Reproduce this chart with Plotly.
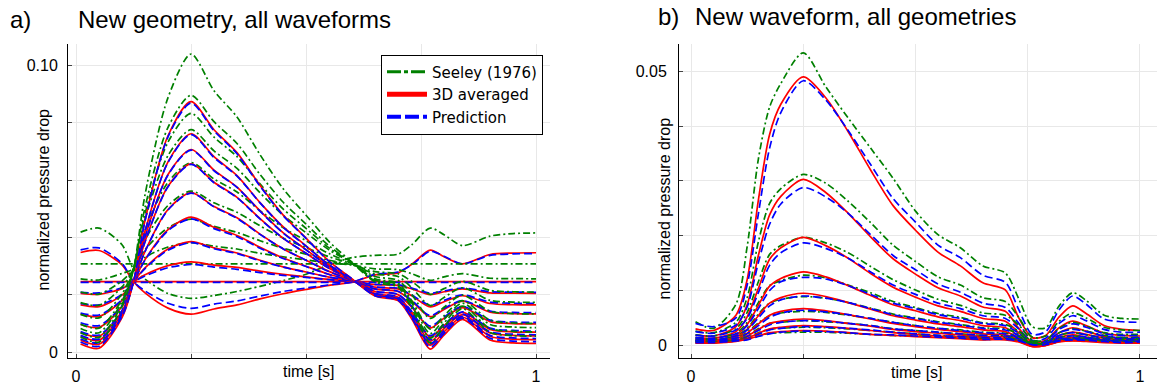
import plotly.graph_objects as go

# ---------------- panel a) new geometry, all waveforms ----------------
T_A = [0.01, 0.05, 0.1, 0.125, 0.15, 0.2, 0.25, 0.3, 0.35, 0.4, 0.45, 0.5,
       0.55, 0.6, 0.65, 0.7, 0.73, 0.77, 0.8, 0.84, 0.9, 0.95, 1.0]

SEELEY_A = [
    [0.0419, 0.0433, 0.0375, 0.0290, 0.0255, 0.0205, 0.0188, 0.0198, 0.0212, 0.0230, 0.0250, 0.0272, 0.0305, 0.0330, 0.0338, 0.0342, 0.0375, 0.0433, 0.0410, 0.0372, 0.0405, 0.0414, 0.0416],
    [0.0308, 0.0308, 0.0308, 0.0308, 0.0308, 0.0308, 0.0308, 0.0308, 0.0308, 0.0308, 0.0308, 0.0308, 0.0308, 0.0308, 0.0308, 0.0308, 0.0308, 0.0308, 0.0308, 0.0308, 0.0308, 0.0308, 0.0308],
    [0.0256, 0.0252, 0.0275, 0.0290, 0.0331, 0.0367, 0.0382, 0.0370, 0.0360, 0.0345, 0.0333, 0.0322, 0.0312, 0.0304, 0.0291, 0.0288, 0.0274, 0.0251, 0.0263, 0.0274, 0.0258, 0.0257, 0.0256],
    [0.0210, 0.0203, 0.0249, 0.0290, 0.0358, 0.0434, 0.0464, 0.0439, 0.0418, 0.0389, 0.0363, 0.0342, 0.0321, 0.0305, 0.0281, 0.0274, 0.0247, 0.0202, 0.0222, 0.0247, 0.0216, 0.0211, 0.0210],
    [0.0173, 0.0164, 0.0228, 0.0290, 0.0391, 0.0512, 0.0562, 0.0521, 0.0488, 0.0441, 0.0398, 0.0365, 0.0333, 0.0308, 0.0273, 0.0264, 0.0225, 0.0163, 0.0191, 0.0225, 0.0181, 0.0175, 0.0174],
    [0.0132, 0.0120, 0.0204, 0.0290, 0.0425, 0.0593, 0.0661, 0.0604, 0.0559, 0.0494, 0.0435, 0.0389, 0.0344, 0.0309, 0.0264, 0.0251, 0.0201, 0.0118, 0.0157, 0.0199, 0.0143, 0.0135, 0.0134],
    [0.0098, 0.0084, 0.0184, 0.0290, 0.0464, 0.0686, 0.0776, 0.0702, 0.0641, 0.0556, 0.0478, 0.0417, 0.0357, 0.0311, 0.0256, 0.0241, 0.0180, 0.0081, 0.0127, 0.0180, 0.0112, 0.0102, 0.0101],
    [0.0083, 0.0068, 0.0176, 0.0290, 0.0483, 0.0733, 0.0833, 0.0750, 0.0682, 0.0587, 0.0500, 0.0432, 0.0364, 0.0311, 0.0252, 0.0236, 0.0172, 0.0065, 0.0114, 0.0171, 0.0097, 0.0088, 0.0086],
    [0.0068, 0.0052, 0.0167, 0.0290, 0.0505, 0.0784, 0.0896, 0.0804, 0.0728, 0.0620, 0.0524, 0.0447, 0.0371, 0.0312, 0.0249, 0.0232, 0.0163, 0.0049, 0.0102, 0.0161, 0.0083, 0.0073, 0.0071],
    [0.0053, 0.0036, 0.0159, 0.0290, 0.0549, 0.0888, 0.1040, 0.0912, 0.0820, 0.0689, 0.0571, 0.0478, 0.0386, 0.0314, 0.0245, 0.0227, 0.0153, 0.0033, 0.0089, 0.0152, 0.0069, 0.0058, 0.0056],
]

AVERAGED_A = [
    [0.0348, 0.0355, 0.0305, 0.0246, 0.0207, 0.0154, 0.0133, 0.0151, 0.0165, 0.0186, 0.0204, 0.0219, 0.0233, 0.0244, 0.0270, 0.0277, 0.0307, 0.0356, 0.0333, 0.0308, 0.0341, 0.0346, 0.0347],
    [0.0246, 0.0246, 0.0246, 0.0246, 0.0246, 0.0246, 0.0246, 0.0246, 0.0246, 0.0246, 0.0246, 0.0246, 0.0246, 0.0246, 0.0246, 0.0246, 0.0246, 0.0246, 0.0246, 0.0246, 0.0246, 0.0246, 0.0246],
    [0.0205, 0.0202, 0.0222, 0.0246, 0.0270, 0.0302, 0.0315, 0.0304, 0.0296, 0.0283, 0.0272, 0.0263, 0.0254, 0.0247, 0.0236, 0.0233, 0.0221, 0.0201, 0.0211, 0.0221, 0.0207, 0.0206, 0.0205],
    [0.0165, 0.0159, 0.0199, 0.0246, 0.0294, 0.0360, 0.0386, 0.0364, 0.0346, 0.0321, 0.0298, 0.0280, 0.0262, 0.0248, 0.0227, 0.0221, 0.0197, 0.0158, 0.0176, 0.0197, 0.0170, 0.0166, 0.0165],
    [0.0133, 0.0125, 0.0181, 0.0246, 0.0323, 0.0428, 0.0471, 0.0436, 0.0407, 0.0366, 0.0329, 0.0300, 0.0272, 0.0250, 0.0220, 0.0212, 0.0178, 0.0124, 0.0149, 0.0178, 0.0140, 0.0135, 0.0134],
    [0.0097, 0.0087, 0.0160, 0.0246, 0.0352, 0.0498, 0.0557, 0.0508, 0.0469, 0.0412, 0.0361, 0.0321, 0.0282, 0.0251, 0.0212, 0.0201, 0.0157, 0.0085, 0.0119, 0.0156, 0.0107, 0.0100, 0.0099],
    [0.0068, 0.0056, 0.0143, 0.0246, 0.0386, 0.0579, 0.0657, 0.0593, 0.0540, 0.0466, 0.0398, 0.0345, 0.0293, 0.0253, 0.0205, 0.0192, 0.0139, 0.0053, 0.0093, 0.0139, 0.0080, 0.0071, 0.0070],
    [0.0055, 0.0042, 0.0136, 0.0246, 0.0403, 0.0620, 0.0707, 0.0635, 0.0576, 0.0493, 0.0417, 0.0358, 0.0299, 0.0253, 0.0202, 0.0188, 0.0132, 0.0039, 0.0082, 0.0131, 0.0067, 0.0059, 0.0057],
    [0.0042, 0.0028, 0.0128, 0.0246, 0.0422, 0.0664, 0.0762, 0.0682, 0.0616, 0.0522, 0.0438, 0.0371, 0.0305, 0.0254, 0.0199, 0.0184, 0.0124, 0.0025, 0.0071, 0.0123, 0.0055, 0.0046, 0.0044],
    [0.0029, 0.0014, 0.0121, 0.0246, 0.0460, 0.0755, 0.0874, 0.0776, 0.0696, 0.0582, 0.0479, 0.0398, 0.0318, 0.0256, 0.0196, 0.0180, 0.0116, 0.0011, 0.0060, 0.0115, 0.0043, 0.0033, 0.0031],
]

PREDICTION_A = [
    [0.0357, 0.0364, 0.0310, 0.0246, 0.0214, 0.0171, 0.0153, 0.0168, 0.0179, 0.0196, 0.0212, 0.0224, 0.0235, 0.0245, 0.0272, 0.0280, 0.0305, 0.0352, 0.0335, 0.0308, 0.0338, 0.0343, 0.0344],
    [0.0244, 0.0244, 0.0244, 0.0244, 0.0244, 0.0244, 0.0244, 0.0244, 0.0244, 0.0244, 0.0244, 0.0244, 0.0244, 0.0244, 0.0244, 0.0244, 0.0244, 0.0244, 0.0244, 0.0244, 0.0244, 0.0244, 0.0244],
    [0.0209, 0.0207, 0.0225, 0.0246, 0.0266, 0.0295, 0.0306, 0.0297, 0.0289, 0.0278, 0.0268, 0.0261, 0.0253, 0.0247, 0.0237, 0.0235, 0.0224, 0.0206, 0.0214, 0.0224, 0.0211, 0.0210, 0.0209],
    [0.0170, 0.0165, 0.0202, 0.0246, 0.0292, 0.0356, 0.0382, 0.0361, 0.0344, 0.0319, 0.0297, 0.0279, 0.0262, 0.0248, 0.0228, 0.0223, 0.0200, 0.0164, 0.0181, 0.0200, 0.0175, 0.0171, 0.0171],
    [0.0137, 0.0130, 0.0183, 0.0246, 0.0321, 0.0424, 0.0465, 0.0431, 0.0403, 0.0363, 0.0327, 0.0299, 0.0271, 0.0249, 0.0221, 0.0213, 0.0181, 0.0128, 0.0153, 0.0180, 0.0144, 0.0139, 0.0138],
    [0.0103, 0.0093, 0.0163, 0.0246, 0.0351, 0.0496, 0.0555, 0.0507, 0.0467, 0.0411, 0.0361, 0.0321, 0.0281, 0.0251, 0.0213, 0.0202, 0.0160, 0.0091, 0.0123, 0.0160, 0.0112, 0.0105, 0.0104],
    [0.0072, 0.0060, 0.0146, 0.0246, 0.0385, 0.0577, 0.0655, 0.0591, 0.0539, 0.0465, 0.0398, 0.0345, 0.0293, 0.0253, 0.0206, 0.0193, 0.0142, 0.0058, 0.0097, 0.0141, 0.0084, 0.0076, 0.0074],
    [0.0059, 0.0046, 0.0138, 0.0246, 0.0402, 0.0618, 0.0705, 0.0633, 0.0575, 0.0492, 0.0416, 0.0357, 0.0299, 0.0253, 0.0203, 0.0189, 0.0134, 0.0044, 0.0086, 0.0133, 0.0071, 0.0063, 0.0061],
    [0.0046, 0.0033, 0.0131, 0.0246, 0.0421, 0.0662, 0.0759, 0.0679, 0.0614, 0.0521, 0.0436, 0.0370, 0.0305, 0.0254, 0.0200, 0.0185, 0.0126, 0.0030, 0.0075, 0.0125, 0.0059, 0.0050, 0.0048],
    [0.0036, 0.0021, 0.0125, 0.0246, 0.0458, 0.0751, 0.0869, 0.0772, 0.0692, 0.0579, 0.0477, 0.0397, 0.0317, 0.0256, 0.0197, 0.0182, 0.0120, 0.0018, 0.0066, 0.0119, 0.0049, 0.0039, 0.0037],
]

# ---------------- panel b) new waveform, all geometries ----------------
T_B = [0.01, 0.05, 0.1, 0.125, 0.15, 0.175, 0.2, 0.25, 0.3, 0.35, 0.4, 0.45, 0.5,
       0.55, 0.6, 0.65, 0.7, 0.73, 0.76, 0.79, 0.82, 0.85, 0.88, 0.92, 0.96, 1.0]

SEELEY_B = [
    [0.0043, 0.0031, 0.0075, 0.0180, 0.0340, 0.0435, 0.0478, 0.0534, 0.0472, 0.0415, 0.0360, 0.0305, 0.0245, 0.0202, 0.0178, 0.0145, 0.0132, 0.0085, 0.0034, 0.0032, 0.0072, 0.0096, 0.0082, 0.0055, 0.0049, 0.0048],
    [0.0026, 0.0023, 0.0042, 0.0087, 0.0189, 0.0259, 0.0286, 0.0312, 0.0296, 0.0263, 0.0224, 0.0183, 0.0153, 0.0125, 0.0110, 0.0087, 0.0080, 0.0051, 0.0015, 0.0017, 0.0044, 0.0059, 0.0050, 0.0033, 0.0028, 0.0027],
    [0.0019, 0.0017, 0.0030, 0.0060, 0.0116, 0.0166, 0.0182, 0.0197, 0.0187, 0.0169, 0.0144, 0.0120, 0.0101, 0.0084, 0.0073, 0.0059, 0.0055, 0.0037, 0.0010, 0.0009, 0.0031, 0.0042, 0.0035, 0.0023, 0.0020, 0.0020],
    [0.0014, 0.0012, 0.0022, 0.0042, 0.0078, 0.0109, 0.0118, 0.0128, 0.0123, 0.0110, 0.0096, 0.0080, 0.0069, 0.0058, 0.0051, 0.0041, 0.0038, 0.0026, 0.0008, 0.0005, 0.0023, 0.0030, 0.0026, 0.0018, 0.0014, 0.0015],
    [0.0011, 0.0010, 0.0017, 0.0031, 0.0057, 0.0077, 0.0084, 0.0089, 0.0086, 0.0078, 0.0068, 0.0057, 0.0050, 0.0043, 0.0038, 0.0032, 0.0030, 0.0021, 0.0006, 0.0003, 0.0018, 0.0023, 0.0019, 0.0014, 0.0013, 0.0012],
    [0.0009, 0.0008, 0.0013, 0.0024, 0.0041, 0.0054, 0.0059, 0.0062, 0.0060, 0.0055, 0.0049, 0.0042, 0.0036, 0.0031, 0.0028, 0.0024, 0.0022, 0.0016, 0.0004, 0.0002, 0.0014, 0.0017, 0.0015, 0.0011, 0.0010, 0.0010],
    [0.0008, 0.0006, 0.0010, 0.0018, 0.0030, 0.0040, 0.0042, 0.0045, 0.0043, 0.0040, 0.0036, 0.0030, 0.0027, 0.0024, 0.0021, 0.0018, 0.0017, 0.0013, 0.0004, 0.0001, 0.0011, 0.0013, 0.0013, 0.0009, 0.0008, 0.0007],
    [0.0006, 0.0006, 0.0009, 0.0014, 0.0023, 0.0029, 0.0031, 0.0033, 0.0032, 0.0030, 0.0027, 0.0024, 0.0021, 0.0018, 0.0016, 0.0014, 0.0014, 0.0010, 0.0004, 0.0001, 0.0009, 0.0011, 0.0010, 0.0008, 0.0007, 0.0007],
    [0.0005, 0.0005, 0.0008, 0.0011, 0.0017, 0.0022, 0.0023, 0.0024, 0.0024, 0.0022, 0.0020, 0.0018, 0.0017, 0.0015, 0.0013, 0.0011, 0.0011, 0.0009, 0.0004, 0.0001, 0.0007, 0.0009, 0.0009, 0.0007, 0.0005, 0.0006],
]

AVERAGED_B = [
    [0.0030, 0.0027, 0.0055, 0.0120, 0.0265, 0.0385, 0.0440, 0.0490, 0.0452, 0.0390, 0.0320, 0.0255, 0.0210, 0.0170, 0.0145, 0.0114, 0.0101, 0.0050, 0.0014, 0.0018, 0.0052, 0.0072, 0.0058, 0.0036, 0.0029, 0.0027],
    [0.0019, 0.0017, 0.0034, 0.0074, 0.0164, 0.0238, 0.0272, 0.0303, 0.0279, 0.0241, 0.0198, 0.0158, 0.0130, 0.0105, 0.0090, 0.0070, 0.0062, 0.0031, 0.0006, 0.0009, 0.0032, 0.0044, 0.0036, 0.0022, 0.0018, 0.0017],
    [0.0014, 0.0013, 0.0025, 0.0052, 0.0104, 0.0157, 0.0178, 0.0197, 0.0182, 0.0159, 0.0131, 0.0106, 0.0088, 0.0072, 0.0062, 0.0049, 0.0044, 0.0023, 0.0003, 0.0005, 0.0023, 0.0032, 0.0026, 0.0016, 0.0013, 0.0013],
    [0.0011, 0.0010, 0.0019, 0.0038, 0.0073, 0.0108, 0.0122, 0.0134, 0.0125, 0.0109, 0.0091, 0.0074, 0.0063, 0.0052, 0.0045, 0.0036, 0.0032, 0.0017, 0.0001, 0.0003, 0.0018, 0.0024, 0.0020, 0.0013, 0.0010, 0.0010],
    [0.0009, 0.0008, 0.0015, 0.0029, 0.0054, 0.0077, 0.0087, 0.0095, 0.0089, 0.0078, 0.0066, 0.0054, 0.0046, 0.0039, 0.0034, 0.0028, 0.0025, 0.0014, 0.0000, 0.0002, 0.0014, 0.0019, 0.0015, 0.0010, 0.0009, 0.0008],
    [0.0007, 0.0007, 0.0012, 0.0022, 0.0039, 0.0055, 0.0062, 0.0067, 0.0063, 0.0056, 0.0048, 0.0040, 0.0034, 0.0029, 0.0025, 0.0021, 0.0019, 0.0011, -0.0001, 0.0001, 0.0011, 0.0014, 0.0012, 0.0008, 0.0007, 0.0007],
    [0.0006, 0.0005, 0.0009, 0.0017, 0.0029, 0.0040, 0.0044, 0.0048, 0.0045, 0.0040, 0.0035, 0.0029, 0.0025, 0.0022, 0.0019, 0.0016, 0.0015, 0.0009, -0.0002, 0.0000, 0.0009, 0.0011, 0.0010, 0.0007, 0.0006, 0.0005],
    [0.0005, 0.0005, 0.0008, 0.0013, 0.0022, 0.0030, 0.0033, 0.0036, 0.0034, 0.0031, 0.0027, 0.0023, 0.0020, 0.0017, 0.0015, 0.0013, 0.0012, 0.0007, -0.0002, 0.0000, 0.0007, 0.0009, 0.0008, 0.0006, 0.0005, 0.0005],
    [0.0004, 0.0004, 0.0007, 0.0011, 0.0017, 0.0023, 0.0025, 0.0027, 0.0026, 0.0023, 0.0020, 0.0018, 0.0016, 0.0014, 0.0012, 0.0010, 0.0010, 0.0006, -0.0002, 0.0000, 0.0006, 0.0008, 0.0007, 0.0005, 0.0004, 0.0004],
]

PREDICTION_B = [
    [0.0040, 0.0034, 0.0050, 0.0110, 0.0240, 0.0360, 0.0425, 0.0483, 0.0448, 0.0392, 0.0330, 0.0268, 0.0225, 0.0183, 0.0160, 0.0128, 0.0115, 0.0065, 0.0020, 0.0025, 0.0065, 0.0090, 0.0075, 0.0048, 0.0043, 0.0042],
    [0.0025, 0.0022, 0.0037, 0.0070, 0.0151, 0.0221, 0.0258, 0.0288, 0.0271, 0.0241, 0.0202, 0.0164, 0.0138, 0.0112, 0.0097, 0.0077, 0.0069, 0.0040, 0.0009, 0.0013, 0.0040, 0.0054, 0.0045, 0.0029, 0.0024, 0.0024],
    [0.0018, 0.0017, 0.0028, 0.0049, 0.0096, 0.0146, 0.0169, 0.0187, 0.0177, 0.0159, 0.0134, 0.0110, 0.0093, 0.0077, 0.0067, 0.0054, 0.0049, 0.0030, 0.0005, 0.0007, 0.0029, 0.0039, 0.0033, 0.0021, 0.0018, 0.0018],
    [0.0014, 0.0013, 0.0021, 0.0036, 0.0067, 0.0100, 0.0116, 0.0124, 0.0121, 0.0109, 0.0093, 0.0077, 0.0067, 0.0056, 0.0049, 0.0040, 0.0036, 0.0022, 0.0002, 0.0004, 0.0023, 0.0029, 0.0025, 0.0017, 0.0014, 0.0014],
    [0.0012, 0.0010, 0.0017, 0.0028, 0.0050, 0.0072, 0.0083, 0.0090, 0.0086, 0.0078, 0.0067, 0.0056, 0.0049, 0.0042, 0.0037, 0.0031, 0.0028, 0.0018, 0.0001, 0.0003, 0.0018, 0.0023, 0.0019, 0.0013, 0.0012, 0.0011],
    [0.0009, 0.0009, 0.0013, 0.0021, 0.0036, 0.0051, 0.0059, 0.0064, 0.0061, 0.0056, 0.0049, 0.0042, 0.0036, 0.0031, 0.0027, 0.0023, 0.0021, 0.0014, 0.0001, 0.0002, 0.0014, 0.0017, 0.0015, 0.0010, 0.0009, 0.0010],
    [0.0008, 0.0007, 0.0010, 0.0016, 0.0027, 0.0037, 0.0042, 0.0045, 0.0044, 0.0040, 0.0036, 0.0030, 0.0027, 0.0024, 0.0021, 0.0018, 0.0017, 0.0012, 0.0001, 0.0001, 0.0011, 0.0013, 0.0013, 0.0009, 0.0008, 0.0007],
    [0.0007, 0.0007, 0.0009, 0.0012, 0.0020, 0.0028, 0.0031, 0.0034, 0.0033, 0.0031, 0.0028, 0.0024, 0.0021, 0.0018, 0.0016, 0.0014, 0.0013, 0.0009, 0.0001, 0.0001, 0.0009, 0.0011, 0.0010, 0.0008, 0.0007, 0.0007],
    [0.0005, 0.0005, 0.0008, 0.0010, 0.0016, 0.0021, 0.0024, 0.0026, 0.0025, 0.0023, 0.0020, 0.0019, 0.0017, 0.0015, 0.0013, 0.0011, 0.0011, 0.0008, 0.0001, 0.0001, 0.0008, 0.0010, 0.0009, 0.0007, 0.0005, 0.0006],
]

# ---------------- ticks ----------------
X_TICKS = [0, 0.25, 0.5, 0.75, 1]
X_TICKTEXT = ["0", "", "", "", "1"]
Y_TICKS_A = [0, 0.02, 0.04, 0.06, 0.08, 0.10]
Y_TICKTEXT_A = ["0", "", "", "", "", "0.10"]
Y_TICKS_B = [0, 0.01, 0.02, 0.03, 0.04, 0.05]
Y_TICKTEXT_B = ["0", "", "", "", "", "0.05"]

W, H = 1158, 391
GREEN, RED, BLUE = "#008000", "#ff0000", "#0000ff"
LW = 1.7
SANS = "Liberation Sans, Arial, sans-serif"

fig = go.Figure()


def add_panel(t, seeley, averaged, prediction, xa, ya):
    for g, r, b in zip(seeley, averaged, prediction):
        fig.add_trace(go.Scatter(
            x=t, y=g, mode="lines", xaxis=xa, yaxis=ya, showlegend=False, hoverinfo="skip",
            line=dict(color=GREEN, width=LW, dash="7px,3px,2px,3px", shape="spline", smoothing=0.8)))
        fig.add_trace(go.Scatter(
            x=t, y=r, mode="lines", xaxis=xa, yaxis=ya, showlegend=False, hoverinfo="skip",
            line=dict(color=RED, width=LW, shape="spline", smoothing=0.8)))
        fig.add_trace(go.Scatter(
            x=t, y=b, mode="lines", xaxis=xa, yaxis=ya, showlegend=False, hoverinfo="skip",
            line=dict(color=BLUE, width=LW, dash="8px,4px", shape="spline", smoothing=0.8)))


add_panel(T_A, SEELEY_A, AVERAGED_A, PREDICTION_A, "x", "y")
add_panel(T_B, SEELEY_B, AVERAGED_B, PREDICTION_B, "x2", "y2")

# legend entries (panel a only)
fig.add_trace(go.Scatter(x=[None], y=[None], mode="lines", name="Seeley (1976)",
                         line=dict(color=GREEN, width=3, dash="14px,3px,4px,3px")))
fig.add_trace(go.Scatter(x=[None], y=[None], mode="lines", name="3D averaged",
                         line=dict(color=RED, width=5)))
fig.add_trace(go.Scatter(x=[None], y=[None], mode="lines", name="Prediction",
                         line=dict(color=BLUE, width=4, dash="14px,4px")))

Y0, Y1 = 1 - 361 / H, 1 - 44 / H

common_x = dict(tickvals=X_TICKS, ticktext=X_TICKTEXT, showgrid=True, gridcolor="#e8e8e8",
                gridwidth=1, showline=True, linecolor="black", linewidth=1, ticks="inside",
                ticklen=4, tickcolor="#444444", zeroline=False,
                tickfont=dict(family=SANS, size=16, color="black"), ticklabelstandoff=4)
common_y = dict(showgrid=True, gridcolor="#e8e8e8", gridwidth=1, showline=True,
                linecolor="black", linewidth=1, ticks="inside", ticklen=4, tickcolor="#444444",
                zeroline=False, tickfont=dict(family=SANS, size=16, color="black"))

fig.update_layout(
    width=W, height=H, autosize=False,
    margin=dict(l=0, r=0, t=0, b=0),
    paper_bgcolor="white", plot_bgcolor="white",
    xaxis=dict(domain=[68 / W, 550 / W], range=[-0.0174, 1.0304], anchor="y", **common_x),
    yaxis=dict(domain=[Y0, Y1], range=[-0.00208, 0.10761], anchor="x",
               tickvals=Y_TICKS_A, ticktext=Y_TICKTEXT_A, ticklabelstandoff=6, **common_y),
    xaxis2=dict(domain=[679 / W, 1157 / W], range=[-0.0268, 1.0379], anchor="y2", **common_x),
    yaxis2=dict(domain=[Y0, Y1], range=[-0.00236, 0.05507], anchor="x2",
                tickvals=Y_TICKS_B, ticktext=Y_TICKTEXT_B, ticklabelstandoff=8, **common_y),
    legend=dict(x=381 / W, y=1 - 55 / H, xanchor="left", yanchor="top",
                bgcolor="white", bordercolor="black", borderwidth=1,
                font=dict(family="DejaVu Sans, sans-serif", size=15, color="black"),
                itemwidth=40, tracegroupgap=0),
    showlegend=True,
)

ann = []


def text(x, y, s, size, **kw):
    ann.append(dict(x=x / W, y=1 - y / H, xref="paper", yref="paper", text=s, showarrow=False,
                    font=dict(family=SANS, size=size, color="black"), **kw))


text(8, 20, "a)", 24, xanchor="left", yanchor="middle")
text(76, 20, "New geometry, all waveforms", 24, xanchor="left", yanchor="middle")
text(656, 17, "b)", 24, xanchor="left", yanchor="middle")
text(693, 17, "New waveform, all geometries", 24, xanchor="left", yanchor="middle")
text(43, 201, "normalized pressure drop", 16, textangle=-90, xanchor="center", yanchor="middle")
text(664, 210, "normalized pressure drop", 16, textangle=-90, xanchor="center", yanchor="middle")
text(309, 374, "time [s]", 16, xanchor="center", yanchor="middle")
text(917, 375, "time [s]", 16, xanchor="center", yanchor="middle")
fig.update_layout(annotations=ann)

fig.write_html("out.html")
